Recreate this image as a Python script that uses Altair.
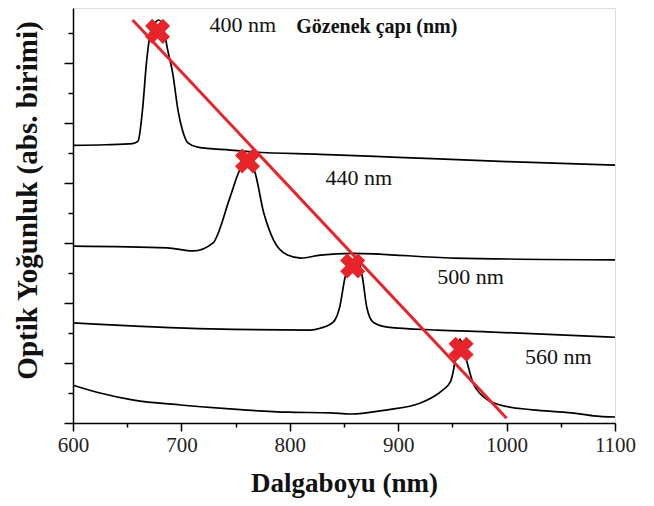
import altair as alt
import pandas as pd

# ---- data ----
c400_x = [600, 630, 655, 660, 664, 668, 672, 676, 679, 683, 687, 692, 697, 701, 706, 715, 745, 766, 828, 900, 1000, 1100]
c400_y = [4.63, 4.64, 4.66, 4.70, 5.20, 6.05, 6.55, 6.68, 6.72, 6.62, 6.25, 5.83, 5.20, 4.88, 4.67, 4.60, 4.55, 4.52, 4.48, 4.43, 4.36, 4.30]

c440_x = [600, 687, 711, 729, 745, 754, 761, 767, 776, 785, 798, 810, 828, 858, 951, 1100]
c440_y = [2.95, 2.92, 2.87, 3.00, 3.77, 4.22, 4.33, 4.22, 3.50, 3.05, 2.80, 2.75, 2.80, 2.83, 2.75, 2.72]

c500_x = [600, 727, 819, 828, 840, 846, 851, 858, 862, 867, 871, 877, 890, 936, 982, 1100]
c500_y = [1.67, 1.57, 1.55, 1.58, 1.68, 1.93, 2.43, 2.72, 2.75, 2.43, 1.93, 1.68, 1.60, 1.55, 1.52, 1.43]

c560_x = [600, 625, 656, 699, 748, 798, 837, 856, 890, 920, 941, 948, 951, 954, 957, 960, 963, 969, 975, 994, 1024, 1060, 1080, 1100]
c560_y = [0.63, 0.50, 0.38, 0.30, 0.23, 0.18, 0.17, 0.15, 0.22, 0.33, 0.55, 0.68, 0.88, 1.22, 1.40, 1.25, 1.05, 0.67, 0.50, 0.30, 0.22, 0.17, 0.12, 0.10]

fit_x = [655, 1000]
fit_y = [6.72, 0.08]

peak_x = [678, 761, 858, 958]
peak_y = [6.53, 4.37, 2.62, 1.23]

label_text = ["400 nm", "440 nm", "500 nm", "560 nm"]
label_x = [726, 833, 936, 1017]
label_y = [6.63, 4.08, 2.43, 1.10]

legend_title = "Gözenek çapı (nm)"
legend_x = [806]
legend_y = [6.60]

x_major = [600, 700, 800, 900, 1000, 1100]
x_minor = [650, 750, 850, 950, 1050]
y_major = [0, 1, 2, 3, 4, 5, 6]
y_minor = [0.5, 1.5, 2.5, 3.5, 4.5, 5.5, 6.5]

# ---- tables ----
rows = []
for name, xs, ys in [("400", c400_x, c400_y), ("440", c440_x, c440_y),
                     ("500", c500_x, c500_y), ("560", c560_x, c560_y)]:
    for i, (a, b) in enumerate(zip(xs, ys)):
        rows.append({"series": name, "order": i, "x": a, "y": b})
curves = pd.DataFrame(rows)
fit = pd.DataFrame({"x": fit_x, "y": fit_y})
peaks = pd.DataFrame({"x": peak_x, "y": peak_y})
labels = pd.DataFrame({"x": label_x, "y": label_y, "t": label_text})
head = pd.DataFrame({"x": legend_x, "y": legend_y, "t": [legend_title]})

SERIF = "Liberation Serif, Times New Roman, serif"
RED = "#e8242b"

xscale = alt.Scale(domain=[600, 1100], nice=False, zero=False)
yscale = alt.Scale(domain=[0, 6.92], nice=False, zero=False)

xaxis = alt.Axis(
    title="Dalgaboyu (nm)", values=x_major, format="d", orient="bottom", labelFlush=False,
    tickSize=8, grid=False, domainColor="black", domainWidth=1.5, tickColor="black", tickWidth=1.5,
    labelFont=SERIF, labelFontSize=21, labelColor="#222", labelPadding=3,
    titleFont=SERIF, titleFontSize=27, titleFontWeight="bold", titleColor="#111",
    titlePadding=15,
)
yaxis = alt.Axis(
    title="Optik Yoğunluk (abs. birimi)", values=y_major, labels=False, orient="left",
    tickSize=9, grid=False, domainColor="black", domainWidth=1.5, tickColor="black", tickWidth=1.5,
    titleFont=SERIF, titleFontSize=29, titleFontWeight="bold", titleColor="#111",
    titlePadding=21, titleY=192,
)
xminor = alt.Axis(title=None, values=x_minor, labels=False, domain=False, orient="bottom",
                  tickSize=4, tickWidth=1.5, tickColor="black", grid=False)
yminor = alt.Axis(title=None, values=y_minor, labels=False, domain=False, orient="left",
                  tickSize=5, tickWidth=1.5, tickColor="black", grid=False)

lines = alt.Chart(curves).mark_line(color="black", strokeWidth=1.7, interpolate="monotone").encode(
    x=alt.X("x:Q", scale=xscale, axis=xaxis),
    y=alt.Y("y:Q", scale=yscale, axis=yaxis),
    detail="series:N", order="order:Q")

fitline = alt.Chart(fit).mark_line(color=RED, strokeWidth=3).encode(
    x=alt.X("x:Q", scale=xscale, axis=xminor),
    y=alt.Y("y:Q", scale=yscale, axis=yminor))

marks = alt.Chart(peaks).mark_point(shape="cross", angle=45, filled=True, size=640,
                                   color=RED, opacity=1).encode(
    x=alt.X("x:Q", scale=xscale, axis=None), y=alt.Y("y:Q", scale=yscale, axis=None))

texts = alt.Chart(labels).mark_text(font=SERIF, fontSize=22, align="left", baseline="middle",
                                    color="#111").encode(
    x=alt.X("x:Q", scale=xscale, axis=None), y=alt.Y("y:Q", scale=yscale, axis=None), text="t:N")

headt = alt.Chart(head).mark_text(font=SERIF, fontSize=20, fontWeight="bold", align="left",
                                  baseline="middle", color="#111").encode(
    x=alt.X("x:Q", scale=xscale, axis=None), y=alt.Y("y:Q", scale=yscale, axis=None), text="t:N")

chart = alt.layer(lines, fitline, marks, texts, headt).resolve_axis(
    x="independent", y="independent"
).properties(
    width=542, height=415,
    padding={"left": 5, "top": 0, "right": 5, "bottom": 5},
).configure_view(stroke="black", strokeWidth=1.5).configure(background="white")

chart.save("out.html", embed_options={"renderer": "svg", "actions": False})
